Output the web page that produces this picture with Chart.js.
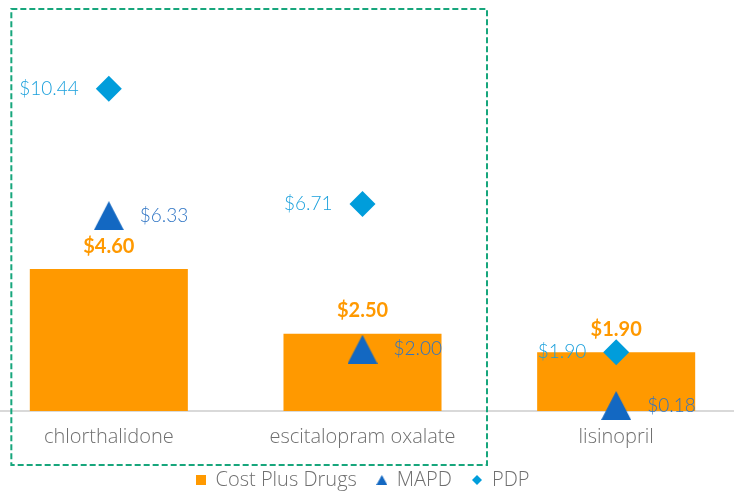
<!DOCTYPE html>
<html>
<head>
<meta charset="utf-8">
<script src="https://cdn.jsdelivr.net/npm/chart.js@4/dist/chart.umd.min.js"></script>
<style>
  html, body { margin: 0; padding: 0; background: #ffffff; overflow: hidden; width: 734px; height: 492px; }
  #wrap { position: absolute; left: -18px; top: 0; width: 761px; height: 500px; }
</style>
</head>
<body>
<div id="wrap"><canvas id="c" width="761" height="500"></canvas></div>
<script>
const categories = ['chlorthalidone', 'escitalopram oxalate', 'lisinopril'];
const costPlusValues = [4.60, 2.50, 1.90];
const mapdValues = [6.33, 2.00, 0.18];
const pdpValues = [10.44, 6.71, 1.90];
const seriesNames = ['Cost Plus Drugs', 'MAPD', 'PDP'];

const ORANGE = '#FF9900';
const TRI_BLUE = '#1368C2';
const DIA_BLUE = '#009DDB';
const GRAY_TEXT = '#6f6f6f';
const NUM_FONT = "Lato, 'Open Sans', sans-serif";
const TXT_FONT = "'Open Sans', Lato, sans-serif";

function makeMarker(kind, w, h, color) {
  const c = document.createElement('canvas');
  c.width = w; c.height = h;
  const g = c.getContext('2d');
  g.fillStyle = color;
  g.beginPath();
  if (kind === 'triangle') {
    g.moveTo(w / 2, 0); g.lineTo(w, h); g.lineTo(0, h);
  } else if (kind === 'diamond') {
    g.moveTo(w / 2, 0); g.lineTo(w, h / 2); g.lineTo(w / 2, h); g.lineTo(0, h / 2);
  } else {
    g.rect(0, 0, w, h);
  }
  g.closePath();
  g.fill();
  return c;
}

const triPoint = makeMarker('triangle', 30, 29, TRI_BLUE);
const legendMarkers = [
  makeMarker('square', 10, 10, ORANGE),
  makeMarker('triangle', 11, 10, TRI_BLUE),
  makeMarker('diamond', 10, 10, DIA_BLUE)
];

const labelPlugin = {
  id: 'valueLabels',
  afterDatasetsDraw(chart) {
    const ctx = chart.ctx;
    chart.data.datasets.forEach((ds, di) => {
      const meta = chart.getDatasetMeta(di);
      const cfg = ds.labelCfg;
      meta.data.forEach((el, i) => {
        const v = ds.data[i];
        const txt = '$' + v.toFixed(2);
        ctx.save();
        ctx.font = cfg.font;
        ctx.fillStyle = cfg.color;
        ctx.textBaseline = 'middle';
        ctx.textAlign = cfg.align;
        ctx.fillText(txt, el.x + cfg.dx, el.y + cfg.dy);
        ctx.restore();
      });
    });
  }
};

const decoPlugin = {
  id: 'deco',
  beforeDatasetsDraw(chart) {
    const ctx = chart.ctx;
    const y0 = chart.scales.y.getPixelForValue(0);
    ctx.save();
    ctx.strokeStyle = '#d9d9d9';
    ctx.lineWidth = 2;
    ctx.beginPath();
    ctx.moveTo(0, y0);
    ctx.lineTo(chart.width, y0);
    ctx.stroke();
    ctx.restore();
  },
  afterDraw(chart) {
    const ctx = chart.ctx;
    const xs = chart.scales.x;
    const ca = chart.chartArea;
    const left = xs.getPixelForValue(0) - 97.5;
    const right = xs.getPixelForValue(1) + 124.5;
    const top = ca.top + 9;
    const bottom = ca.bottom + 54;
    ctx.save();
    ctx.strokeStyle = '#17a67c';
    ctx.lineWidth = 2;
    ctx.setLineDash([6, 3]);
    ctx.strokeRect(left, top, right - left, bottom - top);
    ctx.restore();
  }
};

new Chart(document.getElementById('c'), {
  type: 'bar',
  data: {
    labels: categories,
    datasets: [
      {
        type: 'bar',
        label: seriesNames[0],
        data: costPlusValues,
        backgroundColor: ORANGE,
        borderWidth: 0,
        categoryPercentage: 1.0,
        barPercentage: 0.623,
        order: 2,
        labelCfg: { font: "bold 20px " + NUM_FONT, color: ORANGE, align: 'center', dx: 0, dy: -23 }
      },
      {
        type: 'line',
        label: seriesNames[1],
        data: mapdValues,
        showLine: false,
        clip: false,
        pointStyle: triPoint,
        pointRadius: 15,
        pointHoverRadius: 15,
        backgroundColor: TRI_BLUE,
        borderColor: TRI_BLUE,
        order: 0,
        labelCfg: { font: "300 19px " + NUM_FONT, color: '#2e74c4', align: 'left', dx: 31, dy: 0 }
      },
      {
        type: 'line',
        label: seriesNames[2],
        data: pdpValues,
        showLine: false,
        clip: false,
        pointStyle: 'rectRot',
        pointRadius: 13,
        pointHoverRadius: 13,
        pointBorderWidth: 0,
        backgroundColor: DIA_BLUE,
        borderColor: DIA_BLUE,
        order: 1,
        labelCfg: { font: "300 19px " + NUM_FONT, color: '#1ba0dc', align: 'right', dx: -30, dy: 0 }
      }
    ]
  },
  options: {
    responsive: false,
    animation: false,
    devicePixelRatio: 1,
    events: [],
    layout: { padding: 0, autoPadding: false },
    scales: {
      x: {
        grid: { display: false },
        border: { display: false },
        ticks: { font: { family: TXT_FONT, size: 20, weight: '300' }, color: GRAY_TEXT, padding: 6 },
        afterFit(scale) { scale.height = 39; }
      },
      y: {
        display: false,
        min: 0,
        max: 13.32
      }
    },
    plugins: {
      tooltip: { enabled: false },
      legend: {
        position: 'bottom',
        labels: {
          usePointStyle: true,
          boxWidth: 10,
          boxHeight: 10,
          padding: 20,
          color: GRAY_TEXT,
          font: { family: TXT_FONT, size: 20, weight: '300' },
          sort: (a, b) => a.datasetIndex - b.datasetIndex,
          generateLabels(chart) {
            const items = Chart.defaults.plugins.legend.labels.generateLabels(chart);
            items.forEach(it => { it.pointStyle = legendMarkers[it.datasetIndex]; });
            return items;
          }
        }
      }
    }
  },
  plugins: [labelPlugin, decoPlugin]
});
</script>
</body>
</html>
